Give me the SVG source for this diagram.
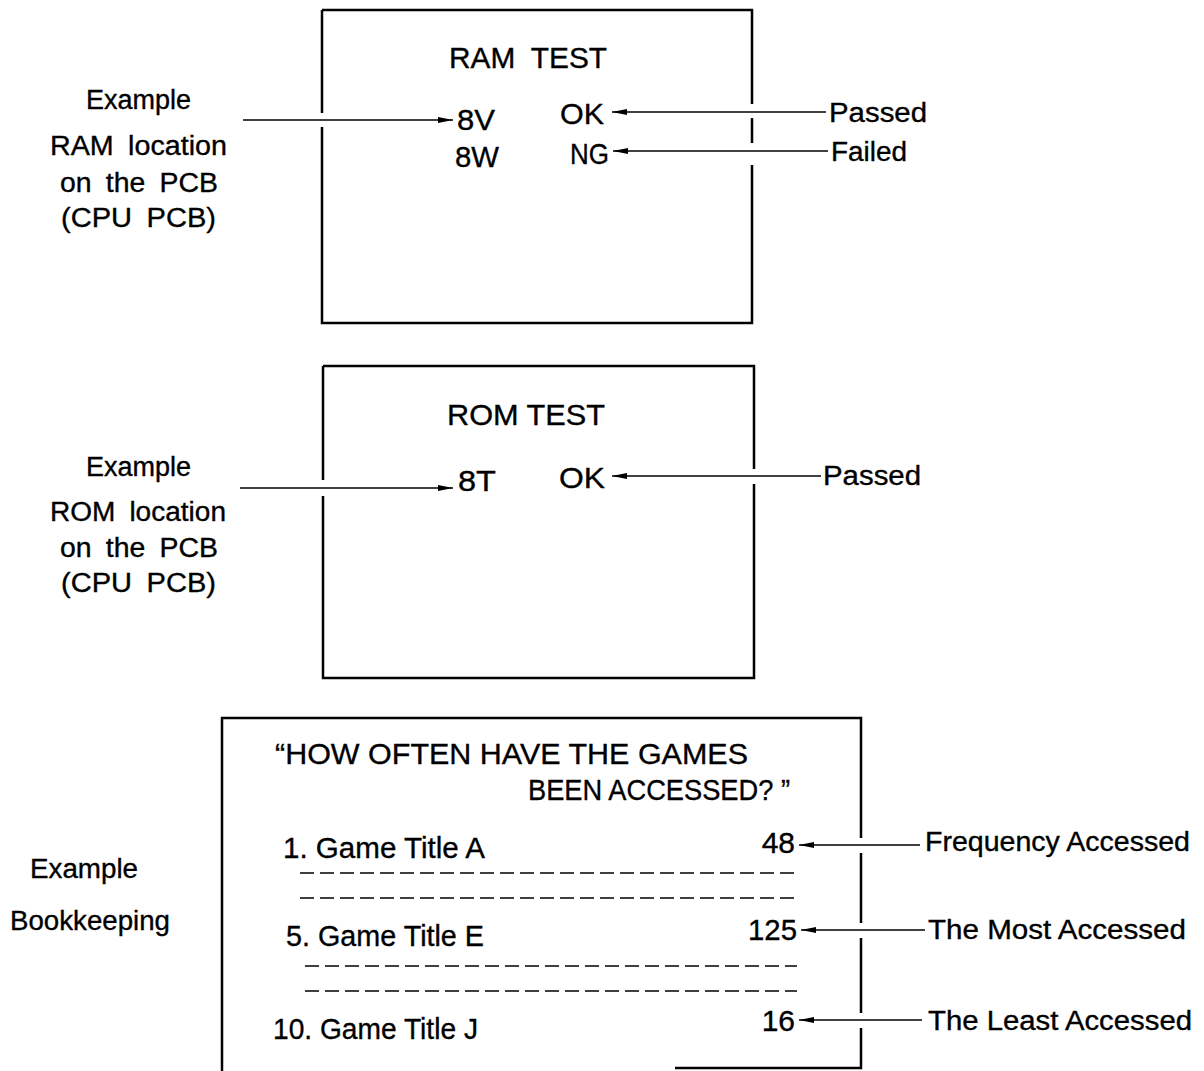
<svg xmlns="http://www.w3.org/2000/svg" width="1204" height="1071" viewBox="0 0 1204 1071">
<style>
text{font-family:"Liberation Sans",Arial,sans-serif;fill:#000;stroke:#000;stroke-width:0.35}
.lb{font-size:27px}
.bx{font-size:30px}
.rl{font-size:27px}
.edge{fill:none;stroke:#000;stroke-width:2.5}
.con{fill:none;stroke:#000;stroke-width:1.6}
.dash{fill:none;stroke:#000;stroke-width:1.7;stroke-dasharray:14 6}
</style>
<defs>
<marker id="ah" viewBox="0 0 15 8" refX="15" refY="4" markerWidth="15" markerHeight="8" markerUnits="userSpaceOnUse" orient="auto">
<path d="M0,1 L15,4 L0,7 Z" fill="#000"/>
</marker>
</defs>
<rect width="1204" height="1071" fill="#fff"/>

<g id="ram-label">
<text class="lb" x="86" y="109" textLength="105" lengthAdjust="spacingAndGlyphs">Example</text>
<text class="lb" x="50" y="155" textLength="177" lengthAdjust="spacingAndGlyphs" word-spacing="6">RAM location</text>
<text class="lb" x="60" y="192" textLength="158" lengthAdjust="spacingAndGlyphs" word-spacing="6">on the PCB</text>
<text class="lb" x="61" y="227" textLength="155" lengthAdjust="spacingAndGlyphs" word-spacing="6">(CPU PCB)</text>
</g>

<g id="ram-box">
<path class="edge" d="M322,10 V113 M322,127 V323 H752 V165 M752,143 V118 M752,104 V10 H322"/>
<text class="bx" x="449" y="68" textLength="158" lengthAdjust="spacingAndGlyphs" word-spacing="8">RAM TEST</text>
<text class="bx" x="457" y="130" textLength="38" lengthAdjust="spacingAndGlyphs">8V</text>
<text class="bx" x="455" y="167" textLength="44" lengthAdjust="spacingAndGlyphs">8W</text>
<text class="bx" x="560" y="124" textLength="44" lengthAdjust="spacingAndGlyphs">OK</text>
<text class="bx" x="570" y="164" textLength="39" lengthAdjust="spacingAndGlyphs">NG</text>
</g>

<g id="ram-right">
<text class="rl" x="829" y="122" textLength="98" lengthAdjust="spacingAndGlyphs">Passed</text>
<text class="rl" x="831" y="161" textLength="76" lengthAdjust="spacingAndGlyphs">Failed</text>
</g>

<g id="rom-label">
<text class="lb" x="86" y="476" textLength="105" lengthAdjust="spacingAndGlyphs">Example</text>
<text class="lb" x="50" y="521" textLength="176" lengthAdjust="spacingAndGlyphs" word-spacing="6">ROM location</text>
<text class="lb" x="60" y="557" textLength="158" lengthAdjust="spacingAndGlyphs" word-spacing="6">on the PCB</text>
<text class="lb" x="61" y="592" textLength="155" lengthAdjust="spacingAndGlyphs" word-spacing="6">(CPU PCB)</text>
</g>

<g id="rom-box">
<path class="edge" d="M323,366 V480 M323,496 V678 H754 V484 M754,469 V366 H323"/>
<text class="bx" x="447" y="425" textLength="158" lengthAdjust="spacingAndGlyphs">ROM TEST</text>
<text class="bx" x="458" y="491" textLength="38" lengthAdjust="spacingAndGlyphs">8T</text>
<text class="bx" x="559" y="488" textLength="46" lengthAdjust="spacingAndGlyphs">OK</text>
</g>

<g id="rom-right">
<text class="rl" x="823" y="485" textLength="98" lengthAdjust="spacingAndGlyphs">Passed</text>
</g>

<g id="bk-label">
<text class="lb" x="30" y="878" textLength="108" lengthAdjust="spacingAndGlyphs">Example</text>
<text class="lb" x="10" y="930" textLength="160" lengthAdjust="spacingAndGlyphs">Bookkeeping</text>
</g>

<g id="bk-box">
<path class="edge" d="M222,1071 V718 H861 V838 M861,853 V923 M861,938 V1013 M861,1028 V1068 H675"/>
<text class="bx" x="275" y="764" textLength="473" lengthAdjust="spacingAndGlyphs">“HOW OFTEN HAVE THE GAMES</text>
<text class="bx" x="528" y="800" textLength="262" lengthAdjust="spacingAndGlyphs">BEEN ACCESSED? ”</text>
<text class="bx" x="283" y="858" textLength="202" lengthAdjust="spacingAndGlyphs">1. Game Title A</text>
<text class="bx" x="286" y="946" textLength="198" lengthAdjust="spacingAndGlyphs">5. Game Title E</text>
<text class="bx" x="273" y="1039" textLength="205" lengthAdjust="spacingAndGlyphs">10. Game Title J</text>
<text class="bx" x="795" y="853" text-anchor="end">48</text>
<text class="bx" x="797" y="940" text-anchor="end" textLength="49" lengthAdjust="spacingAndGlyphs">125</text>
<text class="bx" x="795" y="1031" text-anchor="end">16</text>
<path class="dash" d="M300,873 H795 M300,898 H795 M305,966 H797 M305,991 H797"/>
</g>

<g id="bk-right">
<text class="rl" x="925" y="851" textLength="265" lengthAdjust="spacingAndGlyphs">Frequency Accessed</text>
<text class="rl" x="928" y="939" textLength="258" lengthAdjust="spacingAndGlyphs">The Most Accessed</text>
<text class="rl" x="928" y="1030" textLength="264" lengthAdjust="spacingAndGlyphs">The Least Accessed</text>
</g>

<g id="connectors">
<path class="con" d="M243,120 H453" marker-end="url(#ah)"/>
<path class="con" d="M826,112 H612" marker-end="url(#ah)"/>
<path class="con" d="M828,151 H613" marker-end="url(#ah)"/>
<path class="con" d="M240,488 H453" marker-end="url(#ah)"/>
<path class="con" d="M821,476 H612" marker-end="url(#ah)"/>
<path class="con" d="M920,845 H799" marker-end="url(#ah)"/>
<path class="con" d="M925,930 H801" marker-end="url(#ah)"/>
<path class="con" d="M922,1020 H799" marker-end="url(#ah)"/>
</g>
</svg>
